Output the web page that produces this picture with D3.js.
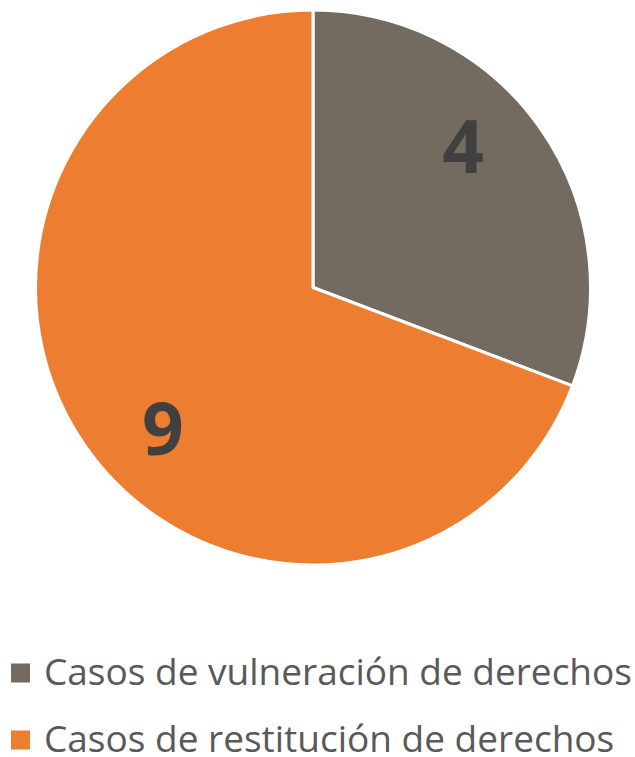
<!DOCTYPE html>
<html>
<head>
<meta charset="utf-8">
<script src="https://cdn.jsdelivr.net/npm/d3@7"></script>
<style>
  body { margin: 0; background: #fff; }
</style>
</head>
<body>
<div id="chart"></div>
<script>
// chart values
const categories = ["Casos de vulneración de derechos", "Casos de restitución de derechos"];
const values = [4, 9];
const colors = ["#736A60", "#ED7D31"];

const width = 635,
  height = 757,
  cx = 313,
  cy = 287.5,
  radius = 277.5,
  labelRadius = 206;

const svg = d3
  .select("#chart")
  .append("svg")
  .attr("width", width)
  .attr("height", height);

const slices = categories.map((c, i) => ({ label: c, value: values[i], color: colors[i] }));

const pie = d3.pie().sort(null).value((d) => d.value);
const arcs = pie(slices);

const arc = d3.arc().innerRadius(0).outerRadius(radius);

const g = svg.append("g").attr("transform", `translate(${cx}, ${cy})`);

g.selectAll("path")
  .data(arcs)
  .join("path")
  .attr("d", arc)
  .attr("fill", (d) => d.data.color)
  .attr("stroke", "#fff")
  .attr("stroke-width", 3)
  .attr("stroke-linejoin", "round");

// data labels, a bit before the middle angle of each slice (as the original does)
const shift = -8.6 * Math.PI / 180;
g.selectAll("text.val")
  .data(arcs)
  .join("text")
  .attr("class", "val")
  .attr("x", (d) => labelRadius * Math.sin((d.startAngle + d.endAngle) / 2 + shift))
  .attr("y", (d) => -labelRadius * Math.cos((d.startAngle + d.endAngle) / 2 + shift))
  .attr("dy", "0.36em")
  .attr("text-anchor", "middle")
  .style("font-family", "'Open Sans', sans-serif")
  .style("font-weight", "700")
  .style("font-size", "73px")
  .style("fill", "#404040")
  .text((d) => d.data.value);

// legend
const legendY = d3.scaleBand().domain(categories).range([639, 773]);

const legend = svg
  .append("g")
  .selectAll("g")
  .data(slices)
  .join("g")
  .attr("transform", (d) => `translate(11, ${legendY(d.label) + legendY.bandwidth() / 2})`);

legend
  .append("rect")
  .attr("x", 0)
  .attr("y", -9)
  .attr("width", 19)
  .attr("height", 19)
  .attr("fill", (d) => d.color);

legend
  .append("text")
  .attr("x", 33)
  .attr("y", 0)
  .attr("dy", "0.35em")
  .style("font-family", "'Open Sans', sans-serif")
  .style("font-size", "37px")
  .style("fill", "#595959")
  .text((d) => d.label);
</script>
</body>
</html>
